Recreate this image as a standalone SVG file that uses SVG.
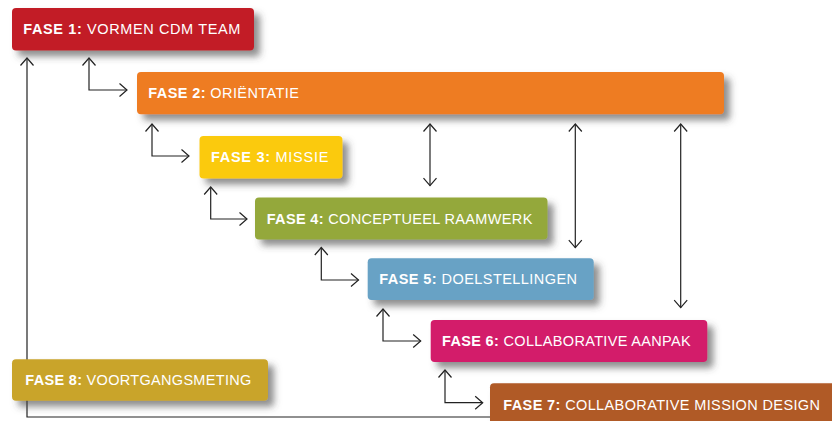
<svg xmlns="http://www.w3.org/2000/svg" width="832" height="421" viewBox="0 0 832 421">
<style>
.lbl{font-family:"Liberation Sans",Arial,sans-serif;font-size:14.5px;fill:#ffffff;}
.b{font-weight:700;}
.c{fill:none;stroke:#222;stroke-width:1.2;}
</style>
<defs>
<filter id="sh" x="-10%" y="-30%" width="130%" height="180%">
<feDropShadow dx="6" dy="6" stdDeviation="3.5" flood-color="#444" flood-opacity="0.6"/>
</filter>
<marker id="ar" viewBox="-10 -8 12 16" refX="0" refY="0" markerWidth="12" markerHeight="16" markerUnits="userSpaceOnUse" orient="auto-start-reverse">
<path d="M-7.5,-6.5 L0,0 L-7.5,6.5" fill="none" stroke="#222" stroke-width="1.2"/>
</marker>
</defs>
<rect width="832" height="421" fill="#ffffff"/>
<g id="connectors">
<path class="c" d="M27,58 V417 H490" marker-start="url(#ar)"/>
<path class="c" d="M89,58 V90 H127" marker-start="url(#ar)" marker-end="url(#ar)"/>
<path class="c" d="M152,124 V156 H189" marker-start="url(#ar)" marker-end="url(#ar)"/>
<path class="c" d="M210.7,187 V219 H247" marker-start="url(#ar)" marker-end="url(#ar)"/>
<path class="c" d="M321.3,247.5 V280 H358.5" marker-start="url(#ar)" marker-end="url(#ar)"/>
<path class="c" d="M383,309 V341 H420.7" marker-start="url(#ar)" marker-end="url(#ar)"/>
<path class="c" d="M445,370 V402.7 H482.7" marker-start="url(#ar)" marker-end="url(#ar)"/>
<path class="c" d="M430,124 V185.7" marker-start="url(#ar)" marker-end="url(#ar)"/>
<path class="c" d="M575.3,124 V247.7" marker-start="url(#ar)" marker-end="url(#ar)"/>
<path class="c" d="M680.7,124 V307.7" marker-start="url(#ar)" marker-end="url(#ar)"/>
</g>
<g id="fase1">
<rect x="12" y="8" width="242" height="42.5" rx="4" fill="#C21F27" filter="url(#sh)"/>
<text class="lbl" x="23.3" y="34.3" textLength="217" lengthAdjust="spacing"><tspan class="b">FASE 1:</tspan> VORMEN CDM TEAM</text>
</g>
<g id="fase2">
<rect x="137" y="72" width="587" height="42.3" rx="4" fill="#EE7B23" filter="url(#sh)"/>
<text class="lbl" x="148.3" y="98.3" textLength="150.5" lengthAdjust="spacing"><tspan class="b">FASE 2:</tspan> ORIËNTATIE</text>
</g>
<g id="fase3">
<rect x="199.5" y="136" width="143" height="42.5" rx="4" fill="#FBCA10" filter="url(#sh)"/>
<text class="lbl" x="211" y="162" textLength="117.3" lengthAdjust="spacing"><tspan class="b">FASE 3:</tspan> MISSIE</text>
</g>
<g id="fase4">
<rect x="255" y="197.5" width="292.5" height="42" rx="4" fill="#94A83B" filter="url(#sh)"/>
<text class="lbl" x="266.7" y="224" textLength="265.6" lengthAdjust="spacing"><tspan class="b">FASE 4:</tspan> CONCEPTUEEL RAAMWERK</text>
</g>
<g id="fase5">
<rect x="367.7" y="258.3" width="226" height="41.7" rx="4" fill="#68A2C5" filter="url(#sh)"/>
<text class="lbl" x="379.3" y="284" textLength="197.7" lengthAdjust="spacing"><tspan class="b">FASE 5:</tspan> DOELSTELLINGEN</text>
</g>
<g id="fase6">
<rect x="430.7" y="320" width="276.6" height="42" rx="4" fill="#D31A6A" filter="url(#sh)"/>
<text class="lbl" x="442" y="345.7" textLength="248.7" lengthAdjust="spacing"><tspan class="b">FASE 6:</tspan> COLLABORATIVE AANPAK</text>
</g>
<g id="fase7">
<rect x="490" y="383.3" width="360" height="42" rx="4" fill="#B05A28" filter="url(#sh)"/>
<text class="lbl" x="503.3" y="410" textLength="316.7" lengthAdjust="spacing"><tspan class="b">FASE 7:</tspan> COLLABORATIVE MISSION DESIGN</text>
</g>
<g id="fase8">
<rect x="12" y="359.3" width="256" height="41.4" rx="4" fill="#C9A42C" filter="url(#sh)"/>
<text class="lbl" x="25.3" y="385" textLength="226" lengthAdjust="spacing"><tspan class="b">FASE 8:</tspan> VOORTGANGSMETING</text>
</g>
</svg>
